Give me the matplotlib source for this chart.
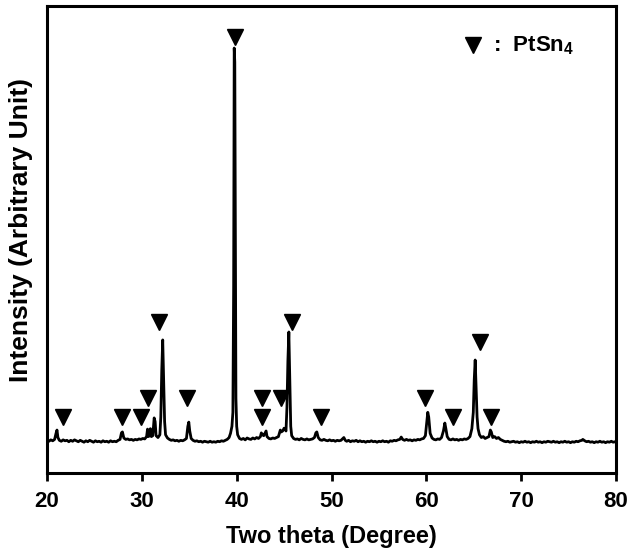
import numpy as np
import matplotlib
matplotlib.use("Agg")
import matplotlib.pyplot as plt

plt.rcParams['font.family'] = ['Liberation Sans', 'DejaVu Sans']
plt.rcParams['font.weight'] = 'bold'
plt.rcParams['mathtext.fontset'] = 'custom'
plt.rcParams['mathtext.rm'] = 'Liberation Sans:bold'
plt.rcParams['mathtext.bf'] = 'Liberation Sans:bold'

# XRD pattern (2theta, intensity in arbitrary units)
theta = [20.0, 20.2, 20.4, 20.6, 20.8, 20.95, 21.05, 21.15, 21.3, 21.5, 21.7, 21.9,
         22.1, 22.3, 22.5, 22.7, 22.9, 23.1, 23.3, 23.5, 23.7, 23.9, 24.1, 24.3,
         24.5, 24.7, 24.9, 25.1, 25.3, 25.5, 25.7, 25.9, 26.1, 26.3, 26.5, 26.7,
         26.9, 27.1, 27.3, 27.5, 27.7, 27.85, 27.95, 28.1, 28.3, 28.5, 28.7, 28.9,
         29.1, 29.3, 29.5, 29.7, 29.9, 30.1, 30.3, 30.5, 30.6, 30.7, 30.8, 30.9,
         31.0, 31.15, 31.3, 31.4, 31.5, 31.7, 31.9, 32.0, 32.1, 32.2, 32.3, 32.4,
         32.5, 32.7, 32.9, 33.1, 33.3, 33.5, 33.7, 33.9, 34.1, 34.3, 34.5, 34.7,
         34.85, 34.95, 35.05, 35.2, 35.4, 35.6, 35.8, 36.0, 36.2, 36.4, 36.6, 36.8,
         37.0, 37.2, 37.4, 37.6, 37.8, 38.0, 38.2, 38.4, 38.6, 38.8, 39.0, 39.2,
         39.35, 39.5, 39.6, 39.68, 39.74, 39.8, 39.86, 39.92, 40.0, 40.1, 40.3, 40.5,
         40.7, 40.9, 41.1, 41.3, 41.5, 41.7, 41.9, 42.1, 42.3, 42.5, 42.6, 42.7,
         42.85, 43.0, 43.1, 43.2, 43.4, 43.6, 43.8, 44.0, 44.2, 44.4, 44.6, 44.7,
         44.85, 45.0, 45.1, 45.2, 45.3, 45.4, 45.5, 45.6, 45.7, 45.8, 46.0, 46.2,
         46.4, 46.6, 46.8, 47.0, 47.2, 47.4, 47.6, 47.8, 48.0, 48.2, 48.35, 48.45,
         48.6, 48.8, 49.0, 49.2, 49.4, 49.6, 49.8, 50.0, 50.2, 50.4, 50.6, 50.8,
         51.0, 51.2, 51.3, 51.45, 51.6, 51.8, 52.0, 52.2, 52.4, 52.6, 52.8, 53.0,
         53.2, 53.4, 53.6, 53.8, 54.0, 54.2, 54.4, 54.6, 54.8, 55.0, 55.2, 55.4,
         55.6, 55.8, 56.0, 56.2, 56.4, 56.6, 56.8, 57.0, 57.2, 57.35, 57.5, 57.7,
         57.9, 58.1, 58.3, 58.5, 58.7, 58.9, 59.1, 59.3, 59.5, 59.7, 59.9, 60.05,
         60.15, 60.25, 60.4, 60.6, 60.8, 61.0, 61.2, 61.4, 61.6, 61.8, 61.95, 62.05,
         62.2, 62.4, 62.6, 62.8, 63.0, 63.2, 63.4, 63.6, 63.8, 64.0, 64.2, 64.4,
         64.6, 64.8, 64.95, 65.05, 65.15, 65.25, 65.35, 65.45, 65.6, 65.8, 66.0, 66.2,
         66.4, 66.6, 66.75, 66.85, 67.0, 67.2, 67.4, 67.6, 67.8, 68.0, 68.2, 68.4,
         68.6, 68.8, 69.0, 69.2, 69.4, 69.6, 69.8, 70.0, 70.2, 70.4, 70.6, 70.8,
         71.0, 71.2, 71.4, 71.6, 71.8, 72.0, 72.2, 72.4, 72.6, 72.8, 73.0, 73.2,
         73.4, 73.6, 73.8, 74.0, 74.2, 74.4, 74.6, 74.8, 75.0, 75.2, 75.4, 75.6,
         75.8, 76.0, 76.2, 76.4, 76.5, 76.7, 76.9, 77.1, 77.3, 77.5, 77.7, 77.9,
         78.1, 78.3, 78.5, 78.7, 78.9, 79.1, 79.3, 79.5, 79.7, 79.9, 80.0]
inten = [70, 68, 71, 69, 72, 85, 92, 76, 70, 68, 71, 69,
         70, 67, 70, 68, 71, 69, 67, 70, 68, 66, 69, 67,
         70, 68, 66, 69, 67, 68, 66, 69, 67, 68, 66, 69,
         67, 68, 67, 70, 72, 86, 88, 75, 72, 73, 71, 72,
         70, 72, 71, 73, 72, 74, 73, 78, 94, 78, 80, 95,
         78, 80, 118, 110, 80, 76, 82, 120, 220, 285, 200, 110,
         82, 75, 72, 70, 71, 69, 70, 68, 70, 69, 71, 74,
         100, 109, 90, 74, 70, 68, 69, 67, 68, 66, 68, 67,
         66, 68, 66, 67, 66, 68, 67, 69, 68, 70, 72, 76,
         85, 100, 130, 400, 910, 880, 500, 160, 100, 82, 74, 72,
         74, 71, 75, 73, 72, 75, 73, 76, 74, 78, 86, 82,
         80, 86, 90, 78, 74, 73, 75, 74, 76, 78, 92, 88,
         90, 96, 94, 90, 140, 240, 302, 200, 100, 80, 74, 72,
         73, 71, 74, 72, 71, 73, 71, 72, 73, 76, 86, 88,
         76, 71, 70, 72, 70, 69, 71, 69, 70, 68, 70, 69,
         70, 74, 76, 70, 68, 70, 67, 69, 68, 70, 67, 69,
         67, 68, 66, 68, 67, 69, 67, 68, 66, 68, 67, 69,
         67, 68, 66, 69, 68, 70, 69, 71, 72, 77, 72, 70,
         72, 70, 71, 69, 71, 70, 72, 71, 73, 74, 80, 110,
         130, 120, 85, 75, 72, 71, 73, 72, 76, 90, 107, 96,
         78, 72, 71, 73, 71, 72, 70, 72, 71, 73, 72, 74,
         78, 95, 130, 200, 242, 180, 120, 95, 82, 76, 78, 74,
         76, 78, 92, 88, 76, 78, 74, 76, 72, 70, 68, 67,
         68, 66, 67, 68, 66, 67, 65, 67, 66, 68, 66, 67,
         65, 67, 66, 68, 66, 67, 65, 67, 66, 68, 67, 66,
         68, 66, 67, 65, 67, 66, 68, 66, 67, 65, 67, 66,
         68, 67, 69, 70, 72, 69, 67, 68, 66, 67, 65, 67,
         66, 68, 66, 67, 65, 67, 66, 68, 66, 67, 66]

# PtSn4 peak markers
mark_x = [21.7, 27.9, 29.9, 30.7, 31.8, 34.8, 39.85, 42.7, 42.7, 44.7,
          45.8, 48.9, 59.9, 62.8, 65.7, 66.8]
mark_y = [120, 120, 120, 160, 323, 160, 934, 160, 120, 160,
          323, 120, 160, 120, 280, 120]

fig = plt.figure(figsize=(6.32, 5.55), dpi=100)
ax = fig.add_axes([0.0744, 0.1477, 0.9003, 0.8415])

ax.plot(theta, inten, color='black', lw=2)
ax.plot(mark_x, mark_y, 'kv', ms=12, ls='none')

# legend-like label
ax.plot([0.749], [0.916], 'kv', ms=12, transform=ax.transAxes, clip_on=False)
ax.text(0.783, 0.914, r':  PtSn$_{4}$', transform=ax.transAxes,
        fontsize=16, fontweight='bold', va='center', ha='left')

ax.set_xlim(20, 80)
ax.set_ylim(0, 1000)
ax.set_xticks([20, 30, 40, 50, 60, 70, 80])
ax.set_yticks([])
ax.tick_params(axis='x', direction='out', length=6, width=2, labelsize=16, pad=7)
for s in ax.spines.values():
    s.set_linewidth(2.2)

ax.set_xlabel('Two theta (Degree)', fontsize=17, fontweight='bold', labelpad=9)
ax.set_ylabel('Intensity (Arbitrary Unit)', fontsize=19, fontweight='bold')
ax.yaxis.set_label_coords(-0.024, 0.52)

fig.savefig('out.png', dpi=100)
